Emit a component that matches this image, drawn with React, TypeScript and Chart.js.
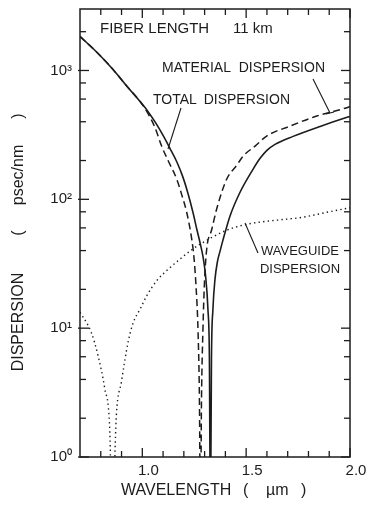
import React, { useEffect, useRef } from "react";
import { Chart, registerables } from "chart.js";

Chart.register(...registerables);

// ---- data ----
const materialWavelength = [0.700, 0.787, 0.859, 0.931, 0.989, 1.027, 1.061, 1.093, 1.128, 1.166, 1.191, 1.214, 1.238, 1.249, 1.258, 1.268, 1.275, 1.280, 1.285, 1.292, 1.299, 1.310, 1.334, 1.358, 1.406, 1.455, 1.486, 1.543, 1.599, 1.711, 1.840, 1.984, 2.000];
const materialDispersion = [1837, 1355, 1018, 738, 575, 464, 361, 259, 194, 143, 107, 79, 49, 35, 22, 9.8, 2.8, 0.3, 2.8, 9.8, 22, 41, 58, 84, 143, 184, 217, 259, 310, 370, 443, 514, 525];

const totalWavelength = [0.700, 0.787, 0.859, 0.931, 0.989, 1.027, 1.066, 1.100, 1.133, 1.167, 1.196, 1.220, 1.244, 1.263, 1.278, 1.292, 1.304, 1.316, 1.323, 1.328, 1.333, 1.340, 1.350, 1.362, 1.375, 1.388, 1.422, 1.470, 1.533, 1.567, 1.600, 1.639, 1.726, 1.856, 1.986, 2.000];
const totalDispersion = [1837, 1355, 1018, 738, 575, 481, 388, 313, 249, 194, 148, 111, 79, 58, 46, 36, 26, 14, 5.8, 0.3, 5.8, 14, 24, 33, 40, 48, 74, 113, 171, 208, 240, 267, 308, 368, 433, 440];

const waveguideWavelength = [0.700, 0.754, 0.787, 0.819, 0.843, 0.855, 0.875, 0.899, 0.933, 0.957, 0.989, 1.021, 1.069, 1.125, 1.181, 1.230, 1.278, 1.400, 1.503, 1.650, 1.759, 1.900, 2.000];
const waveguideDispersion = [13.3, 9.3, 6.1, 3.4, 1.65, 0.3, 2.1, 3.8, 8.0, 11.1, 14.0, 17.8, 23.3, 28.7, 34.3, 39.7, 44.8, 57, 64, 69, 72, 80, 86];

const xTickValues = [1.0, 1.5, 2.0];
const xTickLabels = ["1.0", "1.5", "2.0"];
const xMinorTicks = [0.8, 0.9, 1.1, 1.2, 1.3, 1.4, 1.6, 1.7, 1.8, 1.9];
const yTickValues = [1, 10, 100, 1000];
const yTickLabels = ["10\u2070", "10\u00b9", "10\u00b2", "10\u00b3"];
const yMinorTicks = [2, 4, 6, 8, 20, 40, 60, 80, 200, 400, 600, 800, 2000];

const X_MIN = 0.7;
const X_MAX = 2.0;
const Y_MIN = 1;
const Y_MAX = 3000;

const FONT = "'Liberation Sans', Arial, sans-serif";
const INK = "#1c1c1c";

function toPoints(xs: number[], ys: number[]) {
  return xs.map((x, i) => ({ x, y: ys[i] }));
}

const decorPlugin = {
  id: "decor",
  afterDraw(chart: any) {
    const { ctx, chartArea: a, scales } = chart;
    const xs = scales.x;
    const ys = scales.y;
    ctx.save();
    ctx.strokeStyle = INK;
    ctx.lineWidth = 1.5;
    ctx.strokeRect(a.left, a.top, a.right - a.left, a.bottom - a.top);

    const line = (x1: number, y1: number, x2: number, y2: number) => {
      ctx.beginPath();
      ctx.moveTo(x1, y1);
      ctx.lineTo(x2, y2);
      ctx.stroke();
    };
    ctx.lineWidth = 1.3;
    // x ticks (bottom and top, inward)
    xTickValues.forEach((v) => {
      const p = xs.getPixelForValue(v);
      line(p, a.bottom, p, a.bottom - 9);
      line(p, a.top, p, a.top + 9);
    });
    xMinorTicks.forEach((v) => {
      const p = xs.getPixelForValue(v);
      line(p, a.bottom, p, a.bottom - 6);
      line(p, a.top, p, a.top + 6);
    });
    // y ticks (left and right, inward)
    yTickValues.forEach((v) => {
      const p = ys.getPixelForValue(v);
      line(a.left - 2, p, a.left + 9, p);
      line(a.right, p, a.right - 9, p);
    });
    yMinorTicks.forEach((v) => {
      const p = ys.getPixelForValue(v);
      line(a.left, p, a.left + 6, p);
      line(a.right, p, a.right - 6, p);
    });

    // annotations
    ctx.fillStyle = INK;
    ctx.textBaseline = "alphabetic";
    ctx.textAlign = "left";
    ctx.font = `15px ${FONT}`;
    ctx.fillText("FIBER LENGTH", 100, 33);
    ctx.fillText("11 km", 233, 33);

    ctx.font = `14px ${FONT}`;
    ctx.fillText("MATERIAL", 162, 72);
    ctx.textAlign = "right";
    ctx.fillText("DISPERSION", 325, 72);
    ctx.textAlign = "left";
    ctx.fillText("TOTAL", 153, 104);
    ctx.textAlign = "right";
    ctx.fillText("DISPERSION", 290, 104);

    ctx.font = `13px ${FONT}`;
    ctx.textAlign = "center";
    ctx.fillText("WAVEGUIDE", 300, 255);
    ctx.fillText("DISPERSION", 300, 273);

    // leader lines
    ctx.lineWidth = 1.1;
    line(181, 108, 168, 149);
    line(313, 79, 330, 113);
    line(326, 114, 334, 112);
    line(245, 223, 258, 253);

    // axis titles
    ctx.font = `16px ${FONT}`;
    ctx.textBaseline = "middle";
    const xTitleY = 491;
    ctx.textAlign = "left";
    ctx.fillText("WAVELENGTH", 121, xTitleY);
    ctx.fillText("(", 243, xTitleY);
    ctx.fillText("\u00b5m", 266, xTitleY);
    ctx.fillText(")", 301, xTitleY);

    ctx.save();
    ctx.translate(19, 0);
    ctx.rotate(-Math.PI / 2);
    ctx.textAlign = "center";
    ctx.fillText("DISPERSION", -322, 0);
    ctx.fillText("(", -233, 0);
    ctx.fillText("psec/nm", -175, 0);
    ctx.fillText(")", -116, 0);
    ctx.restore();

    ctx.restore();
  },
};

export default function App() {
  const canvasRef = useRef<HTMLCanvasElement | null>(null);

  useEffect(() => {
    if (!canvasRef.current) return;
    const chart = new Chart(canvasRef.current, {
      type: "line",
      data: {
        datasets: [
          {
            label: "Material dispersion",
            data: toPoints(materialWavelength, materialDispersion),
            borderColor: INK,
            borderWidth: 1.5,
            borderDash: [7, 4],
            pointRadius: 0,
            cubicInterpolationMode: "monotone",
            fill: false,
            clip: 0,
          },
          {
            label: "Total dispersion",
            data: toPoints(totalWavelength, totalDispersion),
            borderColor: INK,
            borderWidth: 1.6,
            pointRadius: 0,
            cubicInterpolationMode: "monotone",
            fill: false,
            clip: 0,
          },
          {
            label: "Waveguide dispersion",
            data: toPoints(waveguideWavelength, waveguideDispersion),
            borderColor: INK,
            borderWidth: 1.4,
            borderDash: [1.4, 3.2],
            pointRadius: 0,
            cubicInterpolationMode: "monotone",
            fill: false,
            clip: 0,
          },
        ],
      },
      options: {
        animation: false,
        responsive: false,
        devicePixelRatio: 1,
        layout: { padding: { top: 9, right: 19, left: 0, bottom: 0 } },
        plugins: {
          legend: { display: false },
          tooltip: { enabled: false },
        },
        scales: {
          x: {
            type: "linear",
            min: X_MIN,
            max: X_MAX,
            grid: { display: false, drawTicks: false },
            border: { display: false },
            afterBuildTicks: (scale: any) => {
              scale.ticks = xTickValues.map((value) => ({ value }));
            },
            afterFit: (scale: any) => {
              scale.height = 49;
              scale.paddingLeft = 0;
              scale.paddingRight = 0;
              scale.paddingTop = 0;
              scale.paddingBottom = 0;
            },
            ticks: {
              autoSkip: false,
              maxRotation: 0,
              padding: 5,
              labelOffset: 6,
              color: INK,
              font: { family: FONT, size: 15 },
              callback: (value: any) => {
                const i = xTickValues.findIndex((v) => Math.abs(v - Number(value)) < 1e-6);
                return i >= 0 ? xTickLabels[i] : "";
              },
            },
          },
          y: {
            type: "logarithmic",
            min: Y_MIN,
            max: Y_MAX,
            grid: { display: false, drawTicks: false },
            border: { display: false },
            afterBuildTicks: (scale: any) => {
              scale.ticks = yTickValues.map((value) => ({ value }));
            },
            afterFit: (scale: any) => {
              scale.width = 80;
              scale.paddingLeft = 0;
              scale.paddingRight = 0;
              scale.paddingTop = 0;
              scale.paddingBottom = 0;
            },
            ticks: {
              autoSkip: false,
              padding: 8,
              color: INK,
              font: { family: FONT, size: 15 },
              callback: (value: any) => {
                const i = yTickValues.indexOf(Number(value));
                return i >= 0 ? yTickLabels[i] : "";
              },
            },
          },
        },
      },
      plugins: [decorPlugin],
    } as any);
    return () => chart.destroy();
  }, []);

  return (
    <div style={{ position: "fixed", left: 0, top: 0, width: 369, height: 506, background: "#fff" }}>
      <canvas ref={canvasRef} width={369} height={506} style={{ display: "block", width: 369, height: 506 }} />
    </div>
  );
}
